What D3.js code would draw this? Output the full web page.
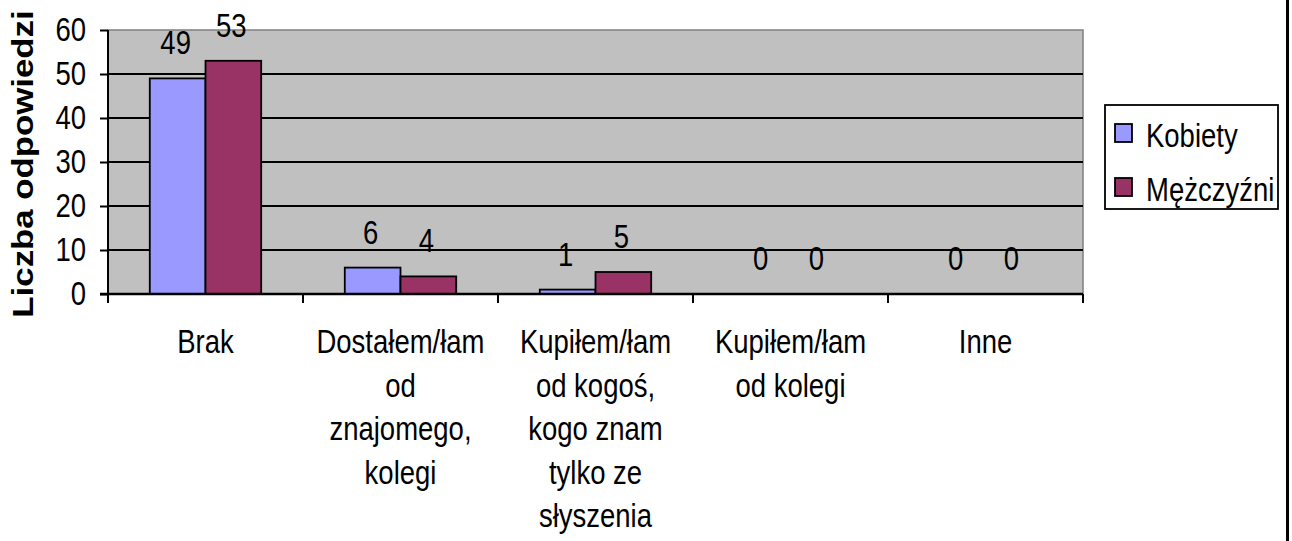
<!DOCTYPE html>
<html>
<head>
<meta charset="utf-8">
<script src="https://cdn.jsdelivr.net/npm/d3@7"></script>
<style>
	body { margin: 0; background: #fff; }
	svg text { font-family: "Liberation Sans", Arial, sans-serif; fill: #000; }
</style>
</head>
<body>
<svg id="chart" width="1292" height="541"></svg>
<script>

// data
var categories = ["Brak", "Dostałem/łam od znajomego, kolegi", "Kupiłem/łam od kogoś, kogo znam tylko ze słyszenia", "Kupiłem/łam od kolegi", "Inne"];
var categoryLines = [
	["Brak"],
	["Dostałem/łam", "od", "znajomego,", "kolegi"],
	["Kupiłem/łam", "od kogoś,", "kogo znam", "tylko ze", "słyszenia"],
	["Kupiłem/łam", "od kolegi"],
	["Inne"]
];
var series = ["Kobiety", "Mężczyźni"];
var kobiety = [49, 6, 1, 0, 0];
var mezczyzni = [53, 4, 5, 0, 0];
var yTicks = [0, 10, 20, 30, 40, 50, 60];

var colors = {"Kobiety": "#9999FF", "Mężczyźni": "#993366"};
var stretch = 1.2;
var fontSize = "27.5px";

var svg = d3.select("#chart");

var plotLeft = 108, plotRight = 1083, plotTop = 30, plotBottom = 294;

var x = d3.scaleBand().domain(categories).range([plotLeft, plotRight]).padding(0);
var xs = d3.scaleBand().domain(series).range([0, x.bandwidth()]).paddingOuter(0.75);
var y = d3.scaleLinear().domain([0, 60]).range([plotBottom, plotTop]);

var rows = categories.map(function (c, i) {
	return {cat: c, lines: categoryLines[i], values: [
		{key: "Kobiety", value: kobiety[i]},
		{key: "Mężczyźni", value: mezczyzni[i]}
	]};
});

// plot background
svg.append("rect")
.attr("x", plotLeft).attr("y", plotTop)
.attr("width", plotRight - plotLeft).attr("height", plotBottom - plotTop)
.attr("fill", "#C0C0C0")
.attr("stroke", "#808080")
.attr("stroke-width", 1.5);

// gridlines
svg.append("g")
.selectAll("line")
.data(yTicks.filter(function (t) { return t > 0 && t < 60; }))
.enter().append("line")
.attr("x1", plotLeft).attr("x2", plotRight)
.attr("y1", function (d) { return y(d); })
.attr("y2", function (d) { return y(d); })
.attr("stroke", "#000")
.attr("stroke-width", 2);

// bars
var groups = svg.append("g")
.selectAll("g")
.data(rows)
.enter().append("g")
.attr("transform", function (d) { return "translate(" + x(d.cat) + ",0)"; });

groups.selectAll("rect")
.data(function (d) { return d.values.filter(function (v) { return v.value > 0; }); })
.enter().append("rect")
.attr("x", function (d) { return xs(d.key); })
.attr("y", function (d) { return y(d.value); })
.attr("width", xs.bandwidth())
.attr("height", function (d) { return plotBottom - y(d.value); })
.attr("fill", function (d) { return colors[d.key]; })
.attr("stroke", "#000")
.attr("stroke-width", 1.8);

groups.selectAll("text.val")
.data(function (d) { return d.values; })
.enter().append("text")
.attr("class", "val")
.attr("text-anchor", "middle")
.style("font-size", fontSize)
.attr("transform", function (d) {
	return "translate(" + (xs(d.key) + xs.bandwidth() / 2 - 2) + "," + (y(d.value) - 24) + ") scale(1," + stretch + ")";
})
.text(function (d) { return d.value; });

// y axis
var yAxis = svg.append("g")
.attr("transform", "translate(" + plotLeft + ",0)")
.call(d3.axisLeft(y).tickValues(yTicks).tickSize(8).tickPadding(14));

yAxis.select(".domain").attr("stroke", "#000").attr("stroke-width", 2)
.attr("d", "M0," + plotTop + "V" + (plotBottom + 9));
yAxis.selectAll(".tick line").attr("stroke", "#000").attr("stroke-width", 2);
yAxis.selectAll(".tick text")
.style("font-size", fontSize)
.style("font-family", "Liberation Sans, Arial, sans-serif")
.attr("fill", "#000")
.attr("transform", "scale(1," + stretch + ")");

// x axis line and ticks at category boundaries
svg.append("line")
.attr("x1", plotLeft - 8).attr("x2", plotRight)
.attr("y1", plotBottom).attr("y2", plotBottom)
.attr("stroke", "#000").attr("stroke-width", 2.5);

var bounds = categories.map(function (c) { return x(c); }).concat([x.range()[1]]);

svg.append("g")
.selectAll("line")
.data(bounds)
.enter().append("line")
.attr("x1", function (d) { return d; })
.attr("x2", function (d) { return d; })
.attr("y1", plotBottom).attr("y2", plotBottom + 9)
.attr("stroke", "#000").attr("stroke-width", 2);

// category labels
var labels = svg.append("g")
.selectAll("g")
.data(rows)
.enter().append("g");

labels.selectAll("text")
.data(function (d) {
	return d.lines.map(function (l, i) { return {line: l, i: i, cx: x(d.cat) + x.bandwidth() / 2}; });
})
.enter().append("text")
.attr("text-anchor", "middle")
.style("font-size", fontSize)
.attr("transform", function (d) {
	return "translate(" + d.cx + "," + (353 + d.i * 43.6) + ") scale(1," + stretch + ")";
})
.text(function (d) { return d.line; });

// y title
svg.append("text")
.attr("text-anchor", "middle")
.style("font-size", "29px")
.style("font-weight", "bold")
.attr("transform", "translate(33,164) rotate(-90) scale(" + stretch + ",1)")
.text("Liczba odpowiedzi");

// legend
var legend = svg.append("g");

legend.append("rect")
.attr("x", 1105).attr("y", 105)
.attr("width", 173).attr("height", 104)
.attr("fill", "#fff")
.attr("stroke", "#000")
.attr("stroke-width", 1.8);

var items = legend.selectAll("g.item")
.data(series)
.enter().append("g")
.attr("class", "item")
.attr("transform", function (d, i) { return "translate(1115," + (124 + i * 54) + ")"; });

items.append("rect")
.attr("width", 17).attr("height", 18)
.attr("fill", function (d) { return colors[d]; })
.attr("stroke", "#000")
.attr("stroke-width", 1.8);

items.append("text")
.attr("transform", "translate(31,23) scale(1," + stretch + ")")
.style("font-size", fontSize)
.text(function (d) { return d; });

// right edge line
svg.append("line")
.attr("x1", 1287.5).attr("x2", 1287.5)
.attr("y1", 0).attr("y2", 541)
.attr("stroke", "#000").attr("stroke-width", 3);

</script>
</body>
</html>
